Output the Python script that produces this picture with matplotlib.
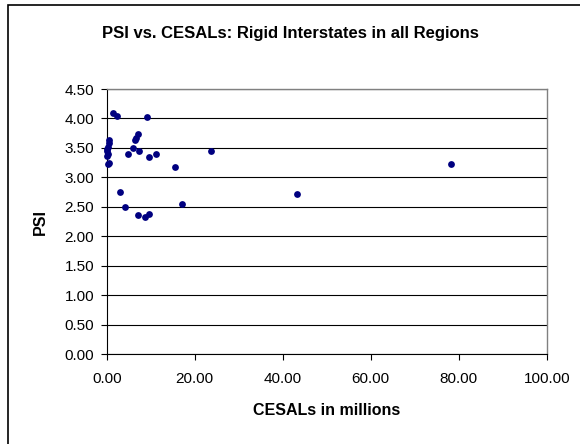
import matplotlib
matplotlib.use("Agg")
import matplotlib.pyplot as plt

plt.rcParams["font.family"] = ["Liberation Sans", "DejaVu Sans"]

# CESALs (millions) and PSI
cesals = [1.4, 2.4, 9.2, 0.6, 0.5, 0.3, 0.1, 0.0, 0.2, 0.1, 0.5, 0.3,
          7.0, 6.6, 6.4, 5.9, 4.9, 7.3, 9.5, 11.2, 23.7, 15.5,
          3.0, 4.2, 7.0, 8.7, 9.5, 17.0, 43.3, 78.3]
psi = [4.10, 4.05, 4.03, 3.63, 3.58, 3.52, 3.48, 3.44, 3.40, 3.37, 3.25, 3.23,
       3.74, 3.67, 3.63, 3.50, 3.39, 3.45, 3.34, 3.39, 3.44, 3.17,
       2.75, 2.49, 2.36, 2.33, 2.38, 2.54, 2.72, 3.23]

x_ticks = [0, 20, 40, 60, 80, 100]
y_ticks = [0, 0.5, 1.0, 1.5, 2.0, 2.5, 3.0, 3.5, 4.0, 4.5]

fig = plt.figure(figsize=(5.8, 4.44), dpi=100)
ax = fig.add_axes([0.184, 0.2027, 0.7587, 0.5968])

ax.scatter(cesals, psi, s=24, color="#000080", zorder=3, linewidths=0,
           clip_on=False)

ax.set_xlim(0, 100)
ax.set_ylim(0, 4.5)
ax.set_xticks(x_ticks)
ax.set_yticks(y_ticks)
ax.set_xticklabels([f"{v:.2f}" for v in x_ticks], fontsize=11)
ax.set_yticklabels([f"{v:.2f}" for v in y_ticks], fontsize=11)
ax.tick_params(direction="out", length=4, width=0.8, color="black")
ax.tick_params(axis="x", pad=9)
ax.tick_params(axis="y", pad=5)
ax.yaxis.grid(True, color="black", linewidth=0.8)
ax.set_axisbelow(True)

for side in ("top", "right"):
    ax.spines[side].set_color("#808080")
    ax.spines[side].set_linewidth(1.0)
for side in ("left", "bottom"):
    ax.spines[side].set_color("black")
    ax.spines[side].set_linewidth(0.8)

ax.set_xlabel("CESALs in millions", fontsize=11.5, fontweight="bold", labelpad=12)
ax.set_ylabel("PSI", fontsize=11.5, fontweight="bold", labelpad=12)

fig.text(0.5, 0.925, "PSI vs. CESALs: Rigid Interstates in all Regions",
         ha="center", va="center", fontsize=12, fontweight="bold")

# outer chart border
fig.patches.append(plt.Rectangle((8 / 580, -0.01), 1.0, 1 - 5 / 444 + 0.01,
                                 transform=fig.transFigure, fill=False,
                                 edgecolor="black", linewidth=1.2))

fig.savefig("out.png", dpi=100, facecolor="white")
